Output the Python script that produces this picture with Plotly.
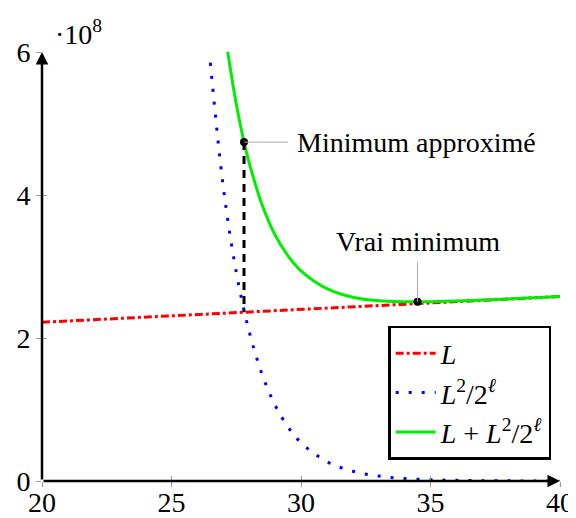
import plotly.graph_objects as go

# ---- data ----
x_L = [20, 25, 30, 35, 40]
y_L = [2.22e8, 2.31e8, 2.40e8, 2.49e8, 2.58e8]

x_Q = [26.5, 27, 27.5, 28, 28.5, 29, 29.5, 30, 31, 32, 33, 34, 35, 36, 37, 38, 39, 40]
y_Q = [5.85e8, 4.11e8, 2.92e8, 2.09e8, 1.49e8, 1.06e8, 0.755e8, 0.536e8, 0.27e8,
       0.137e8, 0.069e8, 0.035e8, 0.018e8, 0.009e8, 0.0045e8, 0.0023e8, 0.0012e8, 0.0006e8]

x_S = [27.1, 27.2, 27.5, 27.8, 28, 28.5, 29, 29.5, 30, 31, 32, 33, 34, 34.5, 35, 36, 37, 38, 39, 40]
y_S = [6.18e8, 5.93e8, 5.275e8, 4.74e8, 4.45e8, 3.86e8, 3.44e8, 3.15e8, 2.94e8, 2.69e8,
       2.57e8, 2.52e8, 2.507e8, 2.506e8, 2.508e8, 2.517e8, 2.53e8, 2.546e8, 2.563e8, 2.58e8]

approx_x, approx_y, approx_foot = 27.8, 4.74e8, 2.36e8
true_x, true_y = 34.5, 2.506e8

x_ticks = [20, 25, 30, 35, 40]
y_ticks = [0, 2e8, 4e8, 6e8]
y_tick_text = ["0", "2", "4", "6"]

FONT = "Liberation Serif"
FS = 28

fig = go.Figure()
fig.add_trace(go.Scatter(x=x_L, y=y_L, mode="lines", name="<i>L</i>",
                         line=dict(color="red", width=3, dash="8px,3px,3px,3px")))
fig.add_trace(go.Scatter(x=x_Q, y=y_Q, mode="lines", name="<i>L</i><sup>2</sup>/2<sup><i>ℓ</i></sup>",
                         line=dict(color="blue", width=3, dash="3px,10px", shape="spline")))
fig.add_trace(go.Scatter(x=x_S, y=y_S, mode="lines", name="<i>L</i> + <i>L</i><sup>2</sup>/2<sup><i>ℓ</i></sup>",
                         line=dict(color="#00ee00", width=3, shape="spline")))
fig.add_trace(go.Scatter(x=[approx_x, approx_x], y=[approx_y, approx_foot], mode="lines",
                         showlegend=False, line=dict(color="black", width=3, dash="8px,6px")))
fig.add_trace(go.Scatter(x=[approx_x, true_x], y=[approx_y, true_y], mode="markers",
                         showlegend=False, marker=dict(color="black", size=8)))
# invisible trace for the overlay axes (ticks crossing the axis)
fig.add_trace(go.Scatter(x=[20, 40], y=[0, 6e8], xaxis="x2", yaxis="y2", mode="markers",
                         marker=dict(opacity=0), showlegend=False, hoverinfo="skip"))

axis_common = dict(showgrid=False, zeroline=False, showline=False, automargin=False,
                   tickcolor="#999999", tickwidth=1, ticklen=5,
                   tickfont=dict(family=FONT, size=FS, color="black"))

fig.update_layout(
    width=568, height=510,
    margin=dict(l=34, r=16, t=44, b=37, autoexpand=False),
    paper_bgcolor="white", plot_bgcolor="white",
    font=dict(family=FONT, size=FS, color="black"),
    xaxis=dict(range=[20, 40], tickvals=x_ticks, ticks="outside", ticklabelstandoff=-9, **axis_common),
    yaxis=dict(range=[0, 6e8], tickvals=y_ticks, ticktext=y_tick_text, ticks="outside", **axis_common),
    xaxis2=dict(range=[20, 40], overlaying="x", tickvals=x_ticks, ticks="inside",
                showticklabels=False, **axis_common),
    yaxis2=dict(range=[0, 6e8], overlaying="y", tickvals=y_ticks, ticks="inside",
                showticklabels=False, **axis_common),
    legend=dict(x=0.983, y=0.049, xanchor="right", yanchor="bottom",
                bordercolor="black", borderwidth=2.5, bgcolor="white",
                font=dict(family=FONT, size=FS), tracegroupgap=0, itemwidth=40),
    showlegend=True,
)

# axes with arrows
fig.add_annotation(x=1.0, y=0, ax=0, ay=0, xref="x domain", yref="y domain",
                   axref="x domain", ayref="y domain",
                   showarrow=True, arrowhead=2, arrowsize=1, arrowwidth=2.5, arrowcolor="black", text="")
fig.add_annotation(x=0, y=1.0, ax=0, ay=0, xref="x domain", yref="y domain",
                   axref="x domain", ayref="y domain",
                   showarrow=True, arrowhead=2, arrowsize=1, arrowwidth=2.5, arrowcolor="black", text="")

# exponent label
fig.add_annotation(x=0.022, y=1.045, xref="paper", yref="paper", xanchor="left", yanchor="middle",
                   showarrow=False, text="·10<sup>8</sup>", font=dict(family=FONT, size=FS))

# pins
fig.add_annotation(x=approx_x, y=approx_y, text="Minimum approximé", showarrow=True,
                   ax=172, ay=0, arrowhead=0, arrowwidth=1, arrowcolor="#aaaaaa",
                   borderpad=8, font=dict(family=FONT, size=FS))
fig.add_annotation(x=true_x, y=true_y, text="Vrai minimum", showarrow=True,
                   ax=0, ay=-60, arrowhead=0, arrowwidth=1, arrowcolor="#aaaaaa",
                   borderpad=4, font=dict(family=FONT, size=FS))

fig.write_html("out.html")
